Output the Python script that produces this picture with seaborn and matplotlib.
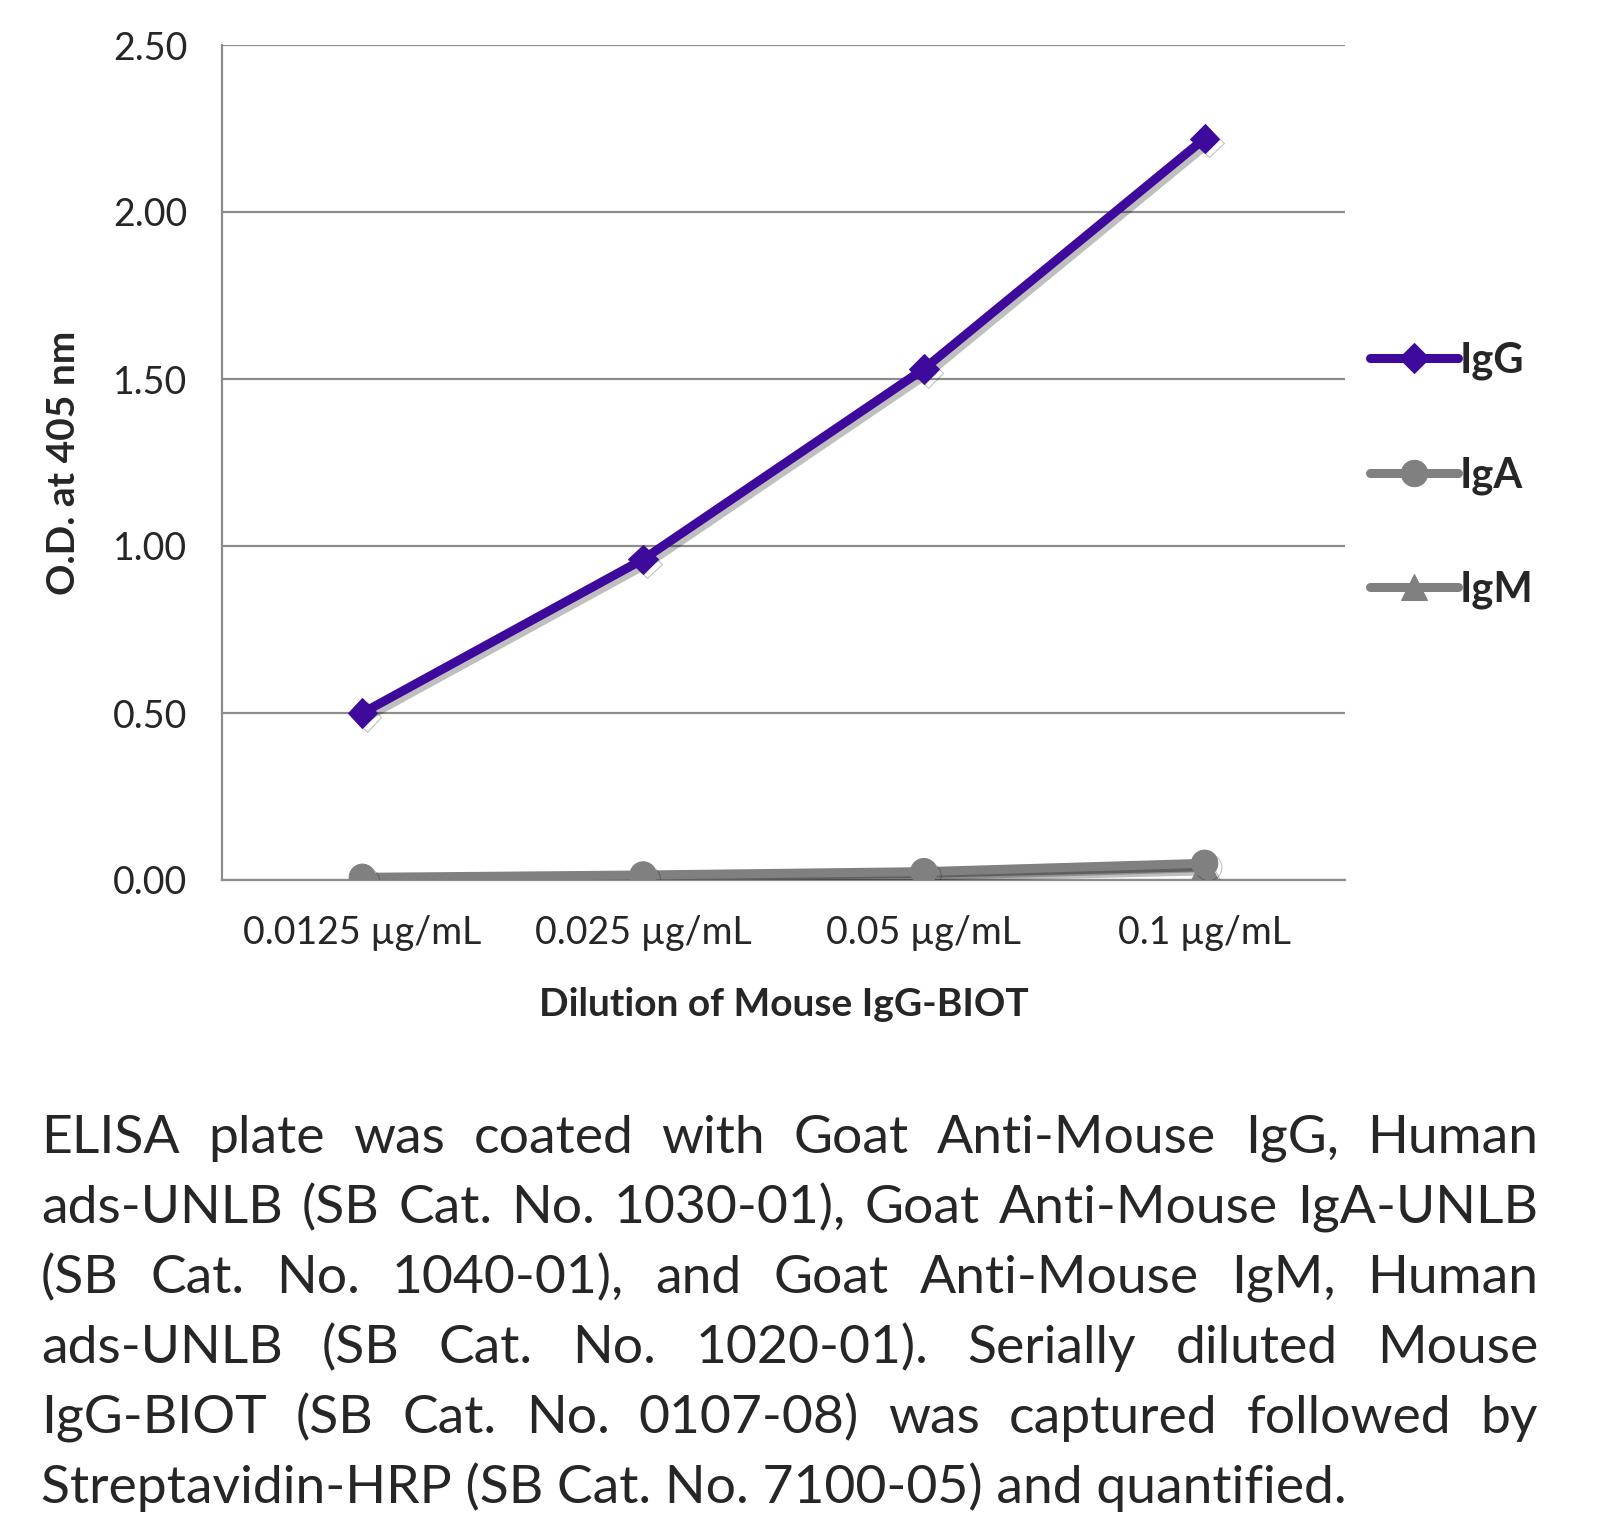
import matplotlib
matplotlib.use("Agg")
import matplotlib.pyplot as plt
import matplotlib.patheffects as pe
import numpy as np
import pandas as pd
import seaborn as sns

# Data
dilutions = ["0.0125 µg/mL", "0.025 µg/mL", "0.05 µg/mL", "0.1 µg/mL"]
igg = [0.50, 0.96, 1.53, 2.22]
iga = [0.008, 0.015, 0.025, 0.05]
igm = [0.002, 0.010, 0.020, 0.040]
series_names = ["IgG", "IgA", "IgM"]
yticks = [0.0, 0.5, 1.0, 1.5, 2.0, 2.5]

caption_lines = [
    "ELISA plate was coated with Goat Anti-Mouse IgG, Human",
    "ads-UNLB (SB Cat. No. 1030-01), Goat Anti-Mouse IgA-UNLB",
    "(SB Cat. No. 1040-01), and Goat Anti-Mouse IgM, Human",
    "ads-UNLB (SB Cat. No. 1020-01).  Serially diluted Mouse",
    "IgG-BIOT (SB Cat. No. 0107-08) was captured followed by",
    "Streptavidin-HRP (SB Cat. No. 7100-05) and quantified.",
]

df = pd.DataFrame({
    "dilution": dilutions * 3,
    "od": igg + iga + igm,
    "series": [s for s in series_names for _ in dilutions],
})

sns.set_style("white")
plt.rcParams["font.family"] = ["Lato", "DejaVu Sans"]

W, H = 1605, 1518
fig = plt.figure(figsize=(W / 100, H / 100), dpi=100)
ax = fig.add_axes([222 / W, 1 - 880 / H, (1345 - 222) / W, (880 - 45) / H])

purple = "#3D0A9C"
gray = "#808080"
grid_c = "#8C8C8C"
palette = {"IgG": purple, "IgA": gray, "IgM": gray}
markers = {"IgG": "D", "IgA": "o", "IgM": "^"}
sizes = {"IgG": 15, "IgA": 19, "IgM": 19}

# grid first
for y in yticks:
    ax.axhline(y, color=grid_c, lw=1.6, zorder=0)

# draw gray series first, IgG on top
for name in ["IgM", "IgA", "IgG"]:
    sub = df[df["series"] == name]
    sns.lineplot(
        data=sub, x="dilution", y="od", color=palette[name],
        marker=markers[name], markersize=sizes[name],
        markeredgecolor=palette[name], linewidth=6.5, ax=ax,
        sort=False, label=name, zorder=3,
        path_effects=[pe.SimpleLineShadow(offset=(3, -3), alpha=0.25), pe.Normal()],
    )

ax.set_xlim(-0.5, 3.5)
ax.set_ylim(0, 2.5)
ax.set_yticks(yticks)
ax.set_yticklabels([f"{v:.2f}" for v in yticks])
ax.tick_params(axis="y", length=12, color=grid_c, width=1.6, labelsize=27, pad=13)
ax.set_xticks(range(len(dilutions)))
ax.set_xticklabels(dilutions)
ax.tick_params(axis="x", which="major", length=0, labelsize=27, pad=25)
ax.set_xticks(np.arange(-0.5, 3.6, 1.0), minor=True)
ax.tick_params(axis="x", which="minor", length=12, color=grid_c, width=1.6, direction="out")
for s in ["top", "right"]:
    ax.spines[s].set_visible(False)
for s in ["left", "bottom"]:
    ax.spines[s].set_color(grid_c)
    ax.spines[s].set_linewidth(1.6)

ax.set_xlabel("Dilution of Mouse IgG-BIOT", fontsize=28, fontweight="bold", labelpad=26)
ax.set_ylabel("O.D. at 405 nm", fontsize=28, fontweight="bold", labelpad=23)

handles, labels = ax.get_legend_handles_labels()
order = [labels.index(n) for n in series_names]
leg = ax.legend(
    [handles[i] for i in order], [labels[i] for i in order],
    loc="upper left", bbox_to_anchor=(1370 / W, 1 - 342 / H),
    bbox_transform=fig.transFigure, frameon=False, fontsize=30,
    handlelength=2.1, handletextpad=0.05, labelspacing=1.82,
    borderpad=0, borderaxespad=0,
)
for t in leg.get_texts():
    t.set_fontweight("bold")
for ln in leg.get_lines():
    ln.set_path_effects([])
    ln.set_solid_capstyle("round")

# justified caption
fig.canvas.draw()
renderer = fig.canvas.get_renderer()
x0, x1 = 41, 1538
line_y = [1153, 1223, 1293, 1363, 1433, 1503]
fs = 38.5
for i, line in enumerate(caption_lines):
    y = 1 - line_y[i] / H
    if i == len(caption_lines) - 1:
        fig.text(x0 / W, y, line, fontsize=fs, va="baseline", ha="left")
        continue
    words = line.split()
    texts = [fig.text(0, y, w, fontsize=fs, va="baseline", ha="left") for w in words]
    widths = [t.get_window_extent(renderer).width for t in texts]
    gap = (x1 - x0 - sum(widths)) / (len(words) - 1)
    x = x0
    for t, w in zip(texts, widths):
        t.set_x(x / W)
        x += w + gap

fig.savefig("out.png", dpi=100, facecolor="white")
